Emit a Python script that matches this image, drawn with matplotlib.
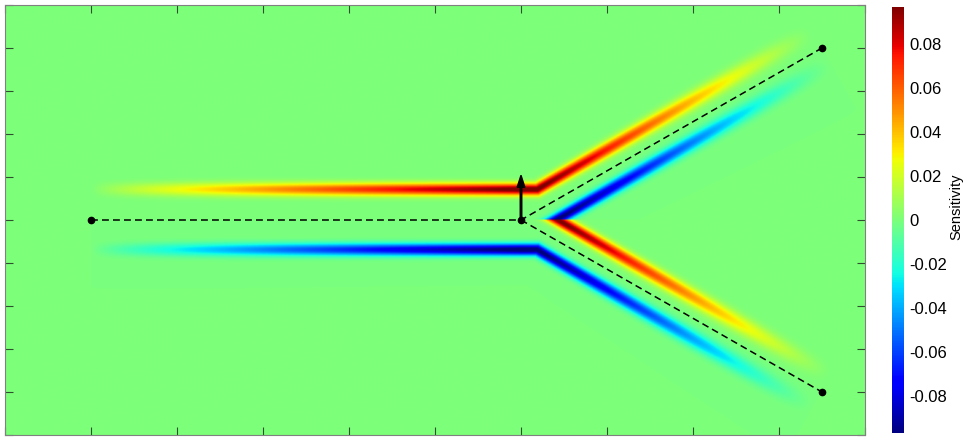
import numpy as np
import matplotlib
matplotlib.use('Agg')
from matplotlib import pyplot as plt
from matplotlib.ticker import FixedLocator, FixedFormatter, NullFormatter

plt.rcParams['font.family'] = ['Liberation Sans', 'DejaVu Sans']

# geometry (km)
src = (1.0, 0.0)            # source
scat = (6.0, 0.0)           # scatterer
rec_x = [9.5, 9.5]          # receivers
rec_y = [2.0, -2.0]

# sensitivity bands
peak = 0.097                # colour limit
band_max = 0.102            # band amplitude next to the scatterer
off_in = 0.35               # band offset along source -> scatterer ray
off_out = 0.21              # band offset along scatterer -> receiver rays
sig_src = [0.055, 0.048]    # band width at source / at scatterer
sig_rec = [0.048, 0.078]    # band width at scatterer / at receiver

arrow_len = 0.52
cbar_ticks = [-0.08, -0.06, -0.04, -0.02, 0, 0.02, 0.04, 0.06, 0.08]
cbar_labels = ['-0.08', '-0.06', '-0.04', '-0.02', '0', '0.02', '0.04', '0.06', '0.08']


def ray_frame(X, Y, p0, p1):
    d = np.array(p1) - np.array(p0)
    L = np.hypot(*d)
    u = d / L
    n = np.array([-u[1], u[0]])
    rx, ry = X - p0[0], Y - p0[1]
    t = (rx * u[0] + ry * u[1]) / L
    s = rx * n[0] + ry * n[1]
    return t, s, u, n


x = np.linspace(0, 10, 1400)
y = np.linspace(-2.5, 2.5, 700)
X, Y = np.meshgrid(x, y)


def upper_half(X, Y):
    # outer band: parallel to source->scatter ray, then bends along the upper branch
    t1, s1, u1, n1 = ray_frame(X, Y, src, scat)
    t2, s2, u2, n2 = ray_frame(X, Y, scat, (rec_x[0], rec_y[0]))
    tc = (off_in - off_out * n2[1]) / u2[1]
    cx = scat[0] + off_out * n2[0] + tc * u2[0]
    L2 = np.hypot(rec_x[0] - scat[0], rec_y[0] - scat[1])
    tc_n = tc / L2
    bis = (u1 + u2)
    side = (X - cx) * bis[0] + (Y - off_in) * bis[1]

    tt1 = np.clip(t1, 0, 1)
    sig1 = sig_src[0] + (sig_src[1] - sig_src[0]) * tt1
    amp1 = band_max * tt1 ** 0.85
    b1 = amp1 * np.exp(-(s1 - off_in) ** 2 / (2 * sig1 ** 2))
    b1 = np.where((side < 0) & (t1 > 0), b1, 0)

    tt = np.clip((t2 - tc_n) / (1 - tc_n), 0, 1)
    sig2 = sig_rec[0] + (sig_rec[1] - sig_rec[0]) * tt
    amp2 = band_max * (1 - tt) ** 1.1
    b2 = amp2 * np.exp(-(s2 - off_out) ** 2 / (2 * sig2 ** 2))
    b2 = np.where((side >= 0) & (t2 <= 1), b2, 0)

    # inner band (negative) below the upper branch, cut at y = 0
    ta_n = (off_out * n2[1] / u2[1]) / L2
    tt3 = np.clip((t2 - ta_n) / (1 - ta_n), 0, 1)
    sig3 = sig_rec[0] + (sig_rec[1] - sig_rec[0]) * tt3
    amp3 = -band_max * (1 - tt3) ** 1.1
    b3 = amp3 * np.exp(-(s2 + off_out) ** 2 / (2 * sig3 ** 2))
    b3 = np.where((Y >= 0) & (t2 >= 0) & (t2 <= 1), b3, 0)
    return b1 + b2 + b3


S = upper_half(X, Y) - upper_half(X, -Y)

fig = plt.figure(figsize=(9.67, 4.40), dpi=100)
ax = fig.add_axes([5 / 967, 5 / 440, 860 / 967, 430 / 440])
im = ax.imshow(S, extent=[0, 10, -2.5, 2.5], origin='lower', cmap='jet',
               vmin=-peak, vmax=peak, interpolation='bilinear', aspect='auto')

# ray paths
ax.plot([src[0], scat[0], rec_x[0]], [src[1], scat[1], rec_y[0]], color='k',
        ls='--', lw=1.1, dashes=(4.5, 2.7))
ax.plot([scat[0], rec_x[1]], [scat[1], rec_y[1]], color='k',
        ls='--', lw=1.1, dashes=(4.5, 2.7))
ax.plot([src[0], scat[0]] + rec_x, [src[1], scat[1]] + rec_y, 'o', color='k',
        ms=4.5, ls='none')
ax.arrow(scat[0], scat[1], 0, arrow_len, width=0.018, head_width=0.09,
         head_length=0.14, length_includes_head=True, color='k')

ax.set_xlim(0, 10)
ax.set_ylim(-2.5, 2.5)
ax.set_xticks(np.arange(0, 10.01, 1))
ax.set_yticks(np.arange(-2.5, 2.51, 0.5))
ax.xaxis.set_major_formatter(NullFormatter())
ax.yaxis.set_major_formatter(NullFormatter())
ax.tick_params(direction='in', length=6, width=0.8, color='#2f4f2f',
               top=True, right=True)
for sp in ax.spines.values():
    sp.set_color('#808080')
    sp.set_linewidth(0.8)

cax = fig.add_axes([892 / 967, 7 / 440, 12 / 967, 426 / 440])
cb = fig.colorbar(im, cax=cax)
cb.outline.set_visible(False)
cb.ax.yaxis.set_major_locator(FixedLocator(cbar_ticks))
cb.ax.yaxis.set_major_formatter(FixedFormatter(cbar_labels))
cb.ax.tick_params(length=0, pad=4, labelsize=12)
cb.set_label('Sensitivity', fontsize=10.5, rotation=90, va='center', ha='center')
cb.ax.yaxis.set_label_coords(5.4, 0.53)

fig.savefig('out.png', dpi=100)
